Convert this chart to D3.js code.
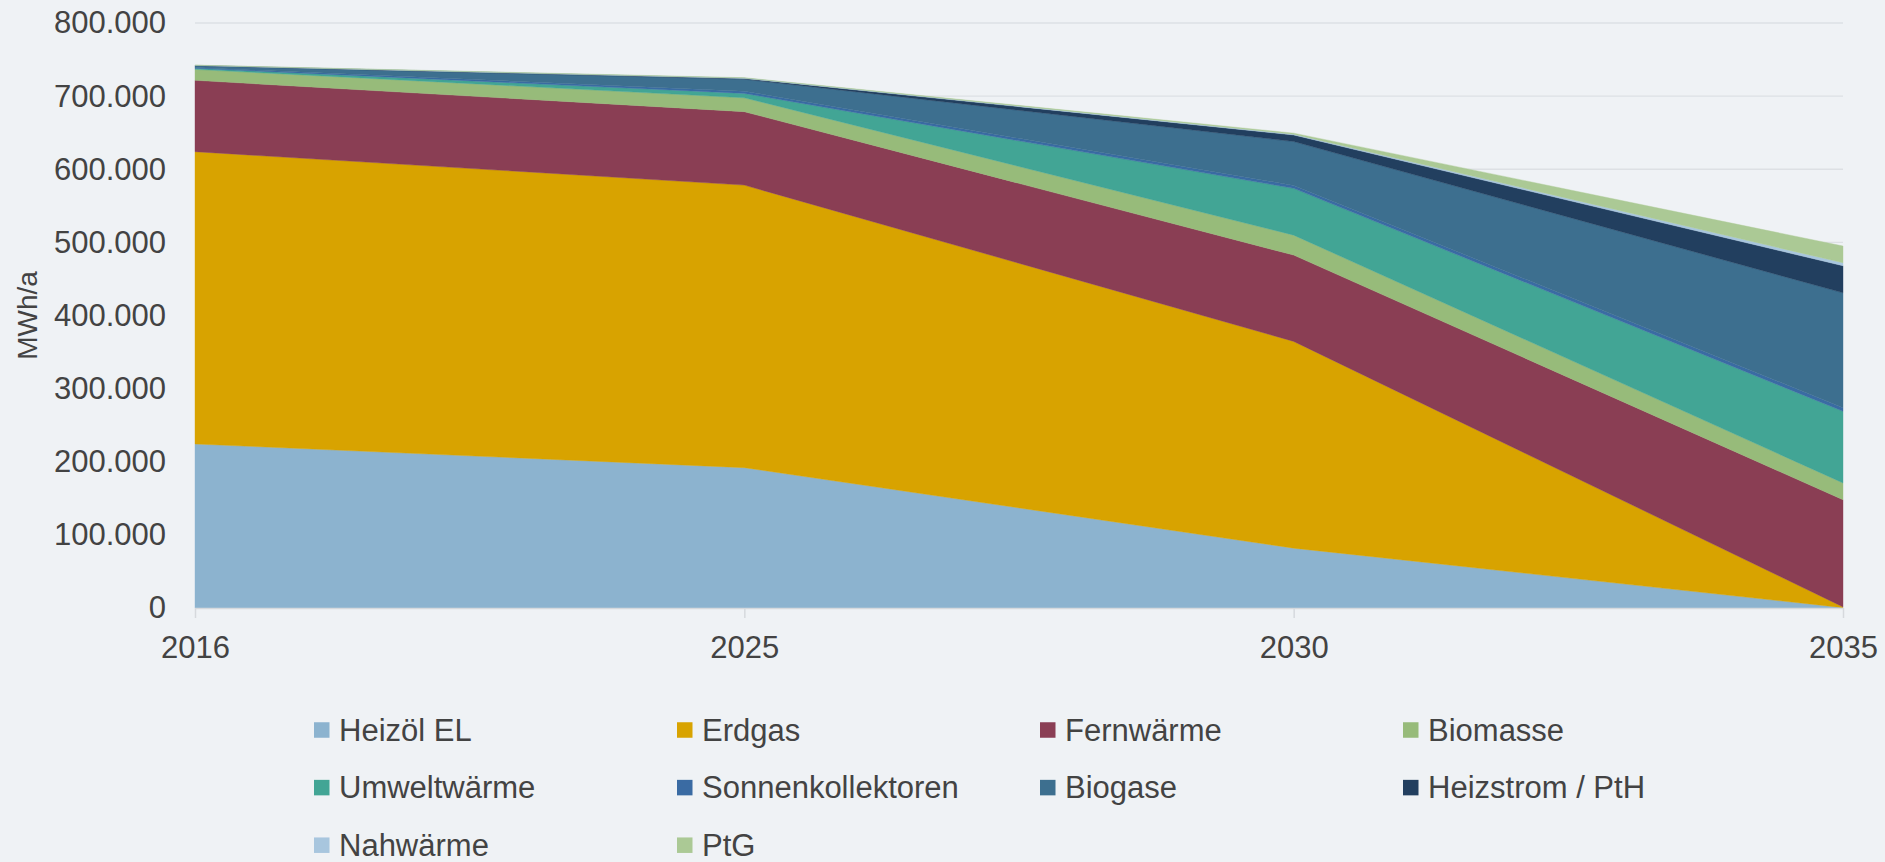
<!DOCTYPE html>
<html>
<head>
<meta charset="utf-8">
<script src="https://cdn.jsdelivr.net/npm/d3@7"></script>
<style>
  body { margin: 0; background: #eff2f5; }
  svg { display: block; font-family: "Liberation Sans", Arial, sans-serif; }
</style>
</head>
<body>
<svg width="1885" height="862"></svg>
<script>
// chart values (MWh/a)
var years = ["2016", "2025", "2030", "2035"];
var heizoel = [224300, 191900, 81800, 500];
var erdgas = [399700, 386400, 282800, 1000];
var fernwaerme = [97600, 100400, 118000, 146500];
var biomasse = [15000, 19000, 27300, 23000];
var umweltwaerme = [1500, 6000, 64000, 98000];
var sonnenkollektoren = [1000, 3000, 4000, 5000];
var biogase = [2500, 16500, 60000, 157000];
var heizstrom = [300, 1000, 9000, 37000];
var nahwaerme = [300, 500, 1000, 4000];
var ptg = [200, 500, 1500, 23000];
var yTicks = [0, 100000, 200000, 300000, 400000, 500000, 600000, 700000, 800000];

var series = [
	{ name: "Heizöl EL", values: heizoel, color: "#8cb3cf" },
	{ name: "Erdgas", values: erdgas, color: "#d8a300" },
	{ name: "Fernwärme", values: fernwaerme, color: "#8a3e54" },
	{ name: "Biomasse", values: biomasse, color: "#97bb7a" },
	{ name: "Umweltwärme", values: umweltwaerme, color: "#42a595" },
	{ name: "Sonnenkollektoren", values: sonnenkollektoren, color: "#3a6ba3" },
	{ name: "Biogase", values: biogase, color: "#3d6f8f" },
	{ name: "Heizstrom / PtH", values: heizstrom, color: "#223f5f" },
	{ name: "Nahwärme", values: nahwaerme, color: "#a8c6de" },
	{ name: "PtG", values: ptg, color: "#abc995" }
];

var svg = d3.select("svg");
var textColor = "#434343";

var de = d3.formatLocale({ decimal: ",", thousands: ".", grouping: [3], currency: ["", " €"] });
var fmt = de.format(",d");

// table for stacking
var table = years.map(function (y, i) {
	var row = { year: y };
	series.forEach(function (s) { row[s.name] = s.values[i]; });
	return row;
});

var x = d3.scalePoint().domain(years).range([195, 1843]);
var y = d3.scaleLinear().domain([0, 800000]).range([608, 23]);

// gridlines
svg.append("g")
	.selectAll("line")
	.data(yTicks.slice(1))
	.enter()
	.append("line")
	.attr("x1", 195)
	.attr("x2", 1843)
	.attr("y1", function (d) { return y(d); })
	.attr("y2", function (d) { return y(d); })
	.style("stroke", "#dde0e4")
	.style("stroke-width", 1.3);

var stack = d3.stack().keys(series.map(function (s) { return s.name; }));
var layers = stack(table);

var area = d3.area()
	.x(function (d) { return x(d.data.year); })
	.y0(function (d) { return y(d[0]); })
	.y1(function (d) { return y(d[1]); });

svg.append("g")
	.selectAll("path")
	.data(layers)
	.enter()
	.append("path")
	.attr("d", area)
	.style("fill", function (d, i) { return series[i].color; })
	.style("stroke", function (d, i) { return series[i].color; })
	.style("stroke-width", 0.4);

// y axis
var yAxis = svg.append("g")
	.attr("transform", "translate(195,0)")
	.call(d3.axisLeft(y).tickValues(yTicks).tickFormat(fmt).tickSize(0).tickPadding(29));
yAxis.select(".domain").remove();
yAxis.selectAll("text")
	.style("font-size", "31px")
	.style("fill", textColor);

// x axis
var xAxis = svg.append("g")
	.attr("transform", "translate(0,608)")
	.call(d3.axisBottom(x).tickSize(10).tickPadding(18));
xAxis.select(".domain").attr("d", "M195,0.5H1843").style("stroke", "#d6d9dd").style("stroke-width", 1.5);
xAxis.selectAll(".tick line").style("stroke", "#d6d9dd").style("stroke-width", 1.5);
xAxis.selectAll("text")
	.style("font-size", "31px")
	.style("fill", textColor);

// y title
svg.append("text")
	.attr("transform", "translate(27,315.5) rotate(-90)")
	.attr("text-anchor", "middle")
	.attr("dominant-baseline", "central")
	.style("font-size", "28px")
	.style("fill", textColor)
	.text("MWh/a");

// legend
var legend = svg.append("g")
	.selectAll("g")
	.data(series)
	.enter()
	.append("g")
	.attr("transform", function (d, i) {
		return "translate(" + (314 + (i % 4) * 363) + "," + (730 + Math.floor(i / 4) * 57.6) + ")";
	});

legend.append("rect")
	.attr("x", 0)
	.attr("y", -7.75)
	.attr("width", 15.5)
	.attr("height", 15.5)
	.style("fill", function (d) { return d.color; });

legend.append("text")
	.attr("x", 25)
	.attr("y", 0)
	.attr("dominant-baseline", "central")
	.style("font-size", "31px")
	.style("fill", textColor)
	.text(function (d) { return d.name; });
</script>
</body>
</html>
